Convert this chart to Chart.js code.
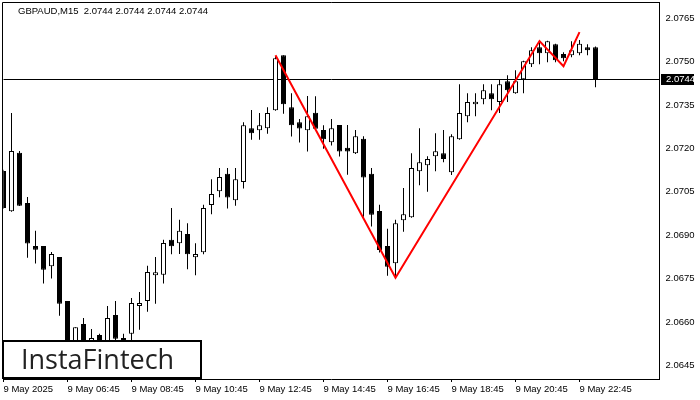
<!DOCTYPE html>
<html>
<head>
<meta charset="utf-8">
<script src="https://cdn.jsdelivr.net/npm/chart.js@4.4.1/dist/chart.umd.min.js"></script>
<style>
  body { margin: 0; background: #fff; }
  canvas { display: block; }
</style>
</head>
<body>
<canvas id="myChart" width="700" height="400"></canvas>
<script>
// GBPAUD M15, 9 May 2025, one entry per 15 min bar
const opens = [
  2.07122, 2.06983, 2.07185, 2.07011, 2.06863, 2.06863, 2.06793, 2.06825, 2.06673, 2.06496,
  2.06593, 2.06521, 2.06555, 2.06528, 2.06624, 2.06538, 2.06559, 2.06655, 2.06673, 2.06762,
  2.06763, 2.06884, 2.06872, 2.06904, 2.06824, 2.06841, 2.07004, 2.07052, 2.07112, 2.07021,
  2.07084, 2.07270, 2.07263, 2.07270, 2.07332, 2.07522, 2.07342, 2.07290, 2.07263, 2.07323,
  2.07264, 2.07221, 2.07281, 2.07202, 2.07183, 2.07233, 2.07112, 2.06984, 2.06863, 2.06803,
  2.06952, 2.06962, 2.07121, 2.07142, 2.07173, 2.07183, 2.07118, 2.07232, 2.07311, 2.07353,
  2.07370, 2.07391, 2.07360, 2.07432, 2.07391, 2.07439, 2.07491, 2.07550, 2.07529, 2.07560,
  2.07526, 2.07522, 2.07529, 2.07550, 2.07550
];
const highs = [
  2.07126, 2.07322, 2.07191, 2.07032, 2.06915, 2.06863, 2.06842, 2.06825, 2.06673, 2.06582,
  2.06614, 2.06576, 2.06559, 2.06655, 2.06673, 2.06559, 2.06683, 2.06704, 2.06794, 2.06825,
  2.06884, 2.06994, 2.06953, 2.06941, 2.06872, 2.07005, 2.07093, 2.07132, 2.07132, 2.07132,
  2.07290, 2.07333, 2.07322, 2.07342, 2.07518, 2.07522, 2.07391, 2.07302, 2.07381, 2.07380,
  2.07280, 2.07302, 2.07281, 2.07281, 2.07264, 2.07242, 2.07132, 2.07005, 2.06922, 2.06953,
  2.07063, 2.07183, 2.07270, 2.07173, 2.07252, 2.07264, 2.07249, 2.07422, 2.07391, 2.07391,
  2.07422, 2.07422, 2.07439, 2.07453, 2.07470, 2.07503, 2.07550, 2.07572, 2.07572, 2.07562,
  2.07532, 2.07570, 2.07575, 2.07560, 2.07552
];
const lows = [
  2.06991, 2.06981, 2.07001, 2.06822, 2.06802, 2.06733, 2.06750, 2.06622, 2.06486, 2.06483,
  2.06503, 2.06503, 2.06496, 2.06517, 2.06531, 2.06528, 2.06538, 2.06573, 2.06635, 2.06663,
  2.06733, 2.06834, 2.06835, 2.06782, 2.06762, 2.06834, 2.06972, 2.07031, 2.06992, 2.07002,
  2.07061, 2.07230, 2.07230, 2.07251, 2.07330, 2.07320, 2.07241, 2.07220, 2.07189, 2.07266,
  2.07199, 2.07210, 2.07172, 2.07109, 2.07181, 2.06964, 2.06930, 2.06840, 2.06760, 2.06757,
  2.06912, 2.06960, 2.07073, 2.07050, 2.07121, 2.07152, 2.07108, 2.07230, 2.07290, 2.07311,
  2.07353, 2.07332, 2.07322, 2.07360, 2.07389, 2.07391, 2.07481, 2.07491, 2.07498, 2.07498,
  2.07501, 2.07515, 2.07522, 2.07522, 2.07411
];
const closes = [
  2.06994, 2.07191, 2.07002, 2.06871, 2.06850, 2.06781, 2.06835, 2.06663, 2.06503, 2.06582,
  2.06521, 2.06545, 2.06510, 2.06614, 2.06542, 2.06545, 2.06666, 2.06666, 2.06773, 2.06772,
  2.06873, 2.06862, 2.06915, 2.06834, 2.06835, 2.06994, 2.07042, 2.07101, 2.07030, 2.07093,
  2.07280, 2.07252, 2.07280, 2.07322, 2.07512, 2.07353, 2.07280, 2.07269, 2.07311, 2.07268,
  2.07232, 2.07270, 2.07189, 2.07189, 2.07242, 2.07099, 2.06971, 2.06849, 2.06791, 2.06941,
  2.06972, 2.07132, 2.07152, 2.07163, 2.07190, 2.07163, 2.07242, 2.07322, 2.07360, 2.07361,
  2.07401, 2.07370, 2.07422, 2.07401, 2.07432, 2.07501, 2.07539, 2.07529, 2.07570, 2.07505,
  2.07512, 2.07539, 2.07562, 2.07539, 2.07440
];

// red pattern line (bar index, price)
const patternX = [34, 49, 67, 70, 72];
const patternY = [2.07522, 2.06753, 2.07571, 2.07484, 2.07602];

const currentPrice = 2.0744;
const xTickIndex = [0, 8, 16, 24, 32, 40, 48, 56, 64, 72];
const xTickLabels = ['9 May 2025', '9 May 06:45', '9 May 08:45', '9 May 10:45', '9 May 12:45',
  '9 May 14:45', '9 May 16:45', '9 May 18:45', '9 May 20:45', '9 May 22:45'];
const yTicks = [2.0645, 2.0660, 2.0675, 2.0690, 2.0705, 2.0720, 2.0735, 2.0750, 2.0765];

const FONT = 'Liberation Sans, Arial, sans-serif';

function noPad(s) {
  s.paddingLeft = 0;
  s.paddingRight = 0;
  s.paddingTop = 0;
  s.paddingBottom = 0;
}

const decor = {
  id: 'decor',
  beforeDatasetsDraw(chart) {
    const { ctx, chartArea: a, scales } = chart;
    const y = Math.round(scales.y.getPixelForValue(currentPrice)) + 0.5;
    ctx.save();
    ctx.strokeStyle = '#000';
    ctx.lineWidth = 1;
    ctx.beginPath();
    ctx.moveTo(a.left, y);
    ctx.lineTo(a.right, y);
    ctx.stroke();
    ctx.restore();
  },
  afterDraw(chart) {
    const { ctx, chartArea: a, scales } = chart;
    ctx.save();
    // frame
    ctx.strokeStyle = '#000';
    ctx.lineWidth = 1;
    ctx.beginPath();
    ctx.moveTo(Math.floor(a.left) - 0.5, Math.round(a.bottom));
    ctx.lineTo(Math.floor(a.left) - 0.5, Math.round(a.top) + 0.5);
    ctx.lineTo(Math.round(a.right), Math.round(a.top) + 0.5);
    ctx.stroke();

    // header
    ctx.fillStyle = '#000';
    ctx.font = '9.5px ' + FONT;
    ctx.textBaseline = 'middle';
    ctx.textAlign = 'left';
    const p = currentPrice.toFixed(4);
    ctx.fillText('GBPAUD,M15  ' + [p, p, p, p].join(' '), 18, 11);

    // current price tag on the axis
    const y = scales.y.getPixelForValue(currentPrice);
    ctx.fillStyle = '#000';
    ctx.fillRect(Math.round(a.right) + 1, Math.round(y) - 5, 33, 11);
    ctx.fillStyle = '#fff';
    ctx.fillText(p, Math.round(a.right) + 6, Math.round(y) + 0.5);

    // logo
    ctx.fillStyle = '#fff';
    ctx.fillRect(3, 341, 198, 37);
    ctx.strokeStyle = '#000';
    ctx.lineWidth = 2;
    ctx.strokeRect(3, 341, 198, 37);
    ctx.fillStyle = '#222';
    ctx.font = '27px "Open Sans", sans-serif';
    ctx.textBaseline = 'alphabetic';
    ctx.fillText('InstaFintech', 21, 369, 161);
    ctx.restore();
  }
};

new Chart(document.getElementById('myChart'), {
  data: {
    datasets: [
      {
        type: 'line',
        data: patternX.map((x, i) => ({ x: x, y: patternY[i] })),
        borderColor: '#f00',
        borderWidth: 2,
        pointRadius: 0,
        tension: 0,
        order: -1,
      },
      {
        type: 'bar',
        data: opens.map((o, i) => ({ x: i, y: [o, closes[i]] })),
        backgroundColor: (c) => closes[c.dataIndex] >= opens[c.dataIndex] ? '#fff' : '#000',
        borderColor: '#000',
        borderWidth: 1,
        borderSkipped: false,
        inflateAmount: 0,
        barThickness: 5,
        grouped: false,
        order: 0,
      },
      {
        type: 'bar',
        data: highs.map((h, i) => ({ x: i, y: [lows[i], h] })),
        backgroundColor: '#000',
        borderWidth: 0,
        inflateAmount: 0,
        barThickness: 1,
        grouped: false,
        order: 1,
      },
    ],
  },
  options: {
    responsive: false,
    animation: false,
    layout: { padding: { left: 3.5, top: 2, right: 0, bottom: 0 } },
    plugins: { legend: { display: false }, tooltip: { enabled: false } },
    scales: {
      x: {
        type: 'linear',
        offset: false,
        min: 0,
        max: 82,
        afterBuildTicks: (s) => { s.ticks = xTickIndex.map((v) => ({ value: v })); },
        afterFit: (s) => { s.height = 21; noPad(s); },
        ticks: {
          autoSkip: false,
          maxRotation: 0,
          align: 'start',
          padding: 2,
          color: '#000',
          font: { family: FONT, size: 9.5 },
          callback: (v) => xTickLabels[xTickIndex.indexOf(v)],
        },
        grid: { offset: false, drawOnChartArea: false, drawTicks: true, tickLength: 3, color: '#000' },
        border: { display: true, color: '#000', width: 1 },
      },
      y: {
        type: 'linear',
        position: 'right',
        min: 2.06403,
        max: 2.07706,
        afterBuildTicks: (s) => { s.ticks = yTicks.map((v) => ({ value: v })); },
        afterFit: (s) => { s.width = 40.5; noPad(s); },
        ticks: {
          padding: 6,
          color: '#000',
          font: { family: FONT, size: 9.5 },
          callback: (v) => v.toFixed(4),
        },
        grid: { display: false, drawTicks: false },
        border: { display: true, color: '#000', width: 1 },
      },
    },
  },
  plugins: [decor],
});
</script>
</body>
</html>
